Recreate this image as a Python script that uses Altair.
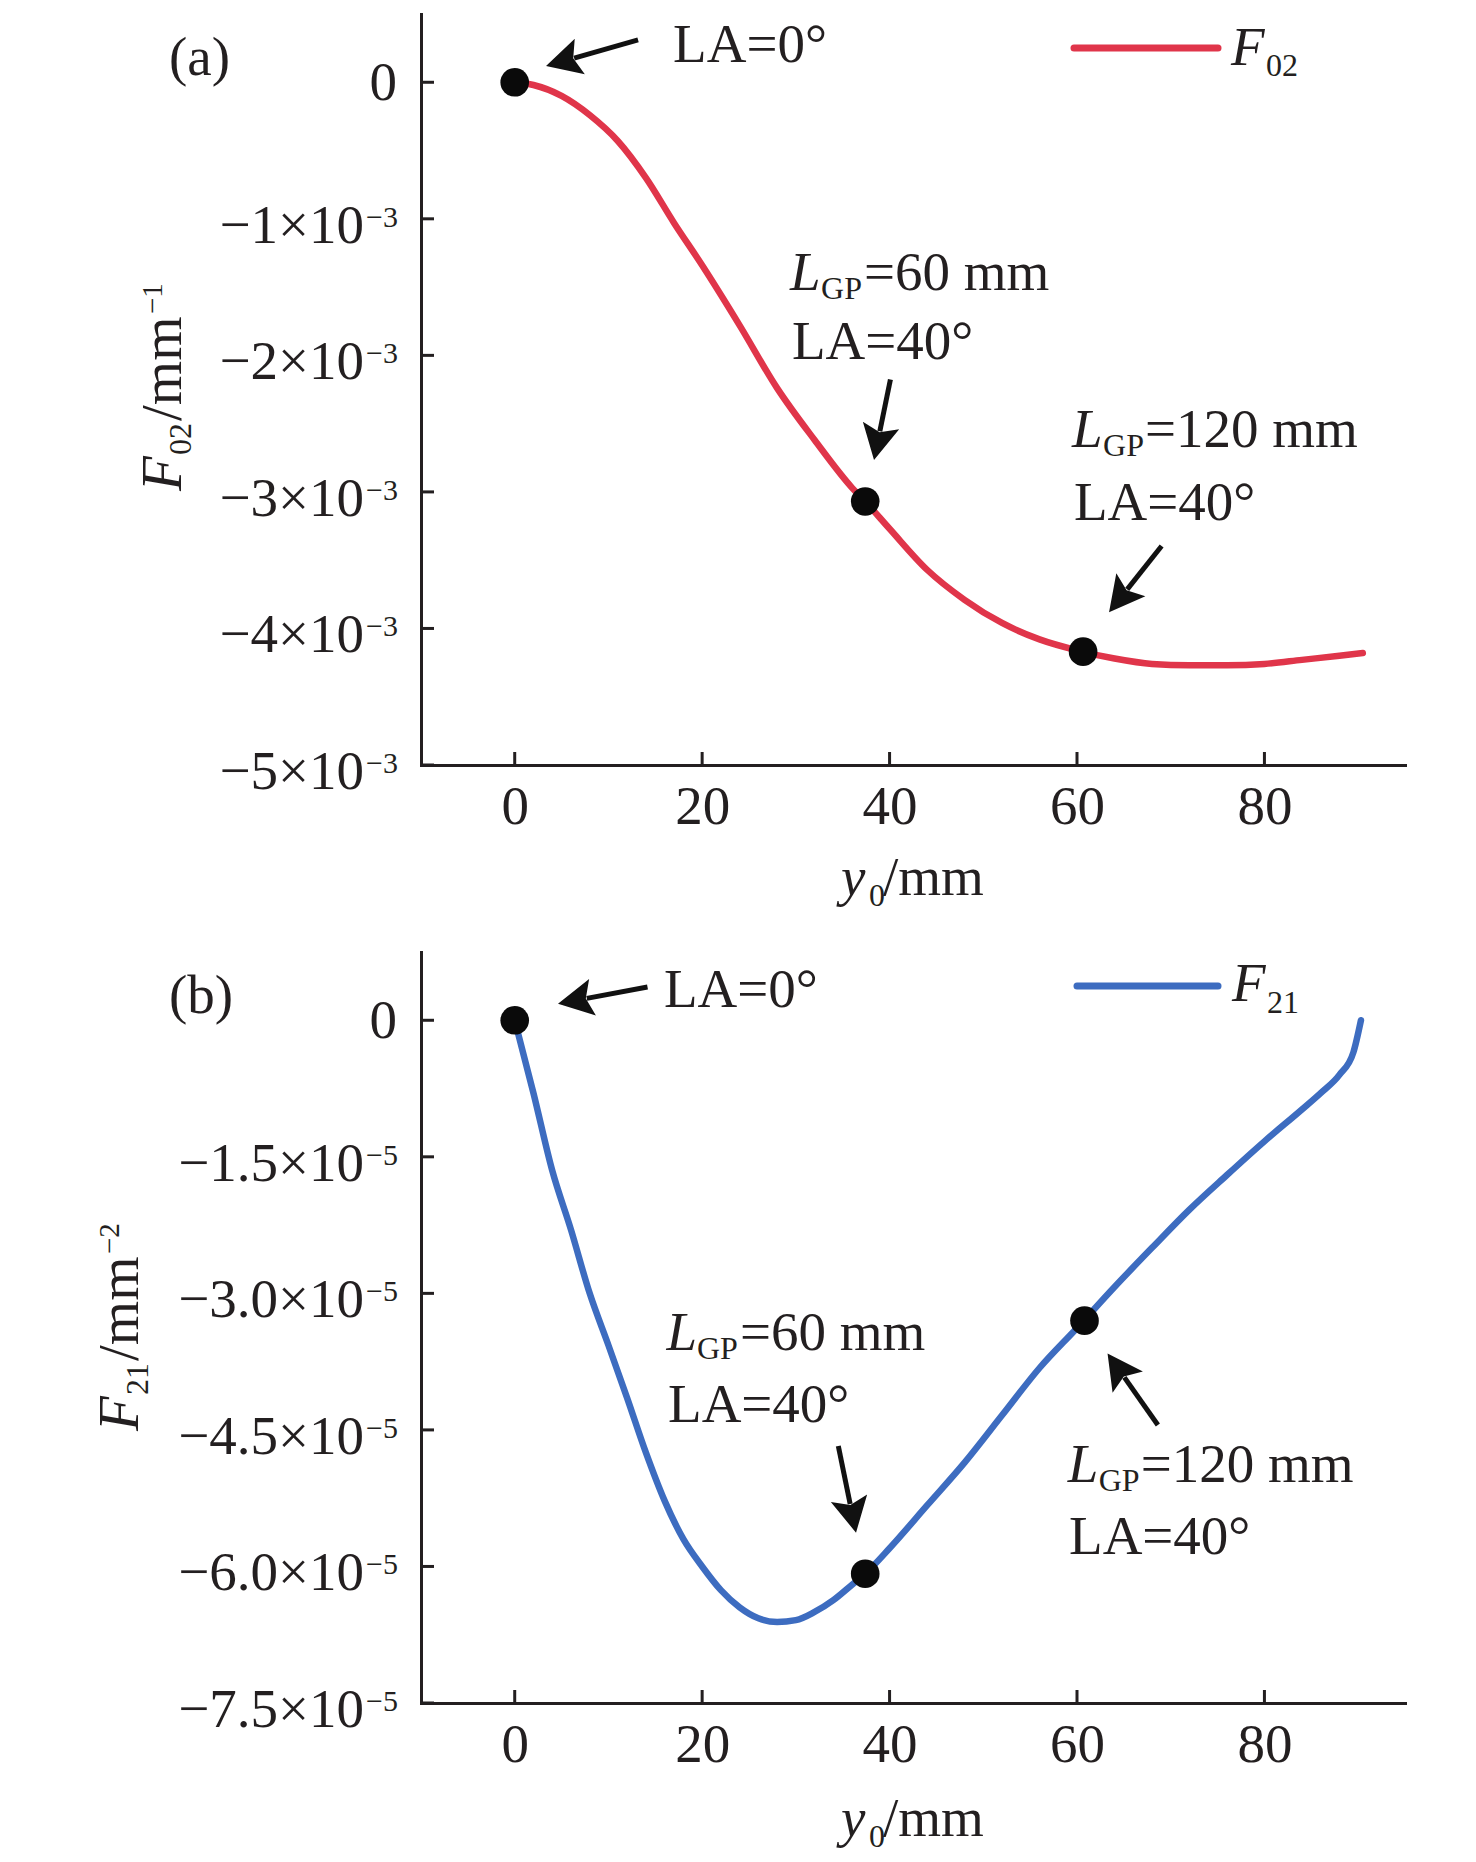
import math
import altair as alt
import pandas as pd

# ---------------- data ----------------
X_DOMAIN = [-10, 95]
X_TICKS = [0, 20, 40, 60, 80]

# panel (a): F02 (1/mm)
xa = [0, 2, 5, 8, 11, 14, 17, 20, 24, 28, 32, 36, 37.4, 40, 44, 48, 52, 56, 60, 64, 68, 72, 76, 80, 84, 88, 90.5]
f02 = [0, -0.02e-3, -0.10e-3, -0.24e-3, -0.43e-3, -0.70e-3, -1.03e-3, -1.34e-3, -1.78e-3, -2.24e-3,
       -2.62e-3, -2.97e-3, -3.07e-3, -3.27e-3, -3.57e-3, -3.79e-3, -3.96e-3, -4.08e-3, -4.16e-3,
       -4.22e-3, -4.26e-3, -4.27e-3, -4.27e-3, -4.26e-3, -4.23e-3, -4.20e-3, -4.18e-3]
ya_domain = [-5e-3, 0.5e-3]
ya_ticks = [0, -1e-3, -2e-3, -3e-3, -4e-3, -5e-3]
ya_main = ["0", "−1×10", "−2×10", "−3×10", "−4×10", "−5×10"]
ya_sup = ["", "−3", "−3", "−3", "−3", "−3"]
pa_x = [0, 37.4, 60.65]
pa_y = [0, -3.07e-3, -4.17e-3]

# panel (b): F21 (1/mm^2)
xb = [0, 2, 4, 6, 8, 10, 12, 14, 16, 18, 20, 22, 24, 26, 28, 30, 32, 34, 36, 37.4, 40, 44, 48, 52,
      56, 60, 64, 68, 72, 76, 80, 84, 86, 88, 89.5, 90.3]
f21 = [0, -0.80e-5, -1.65e-5, -2.30e-5, -3.00e-5, -3.57e-5, -4.15e-5, -4.75e-5, -5.28e-5, -5.70e-5,
       -6.00e-5, -6.26e-5, -6.45e-5, -6.57e-5, -6.61e-5, -6.59e-5, -6.50e-5, -6.37e-5, -6.20e-5,
       -6.08e-5, -5.80e-5, -5.33e-5, -4.86e-5, -4.34e-5, -3.82e-5, -3.38e-5, -2.93e-5, -2.50e-5,
       -2.08e-5, -1.70e-5, -1.33e-5, -0.98e-5, -0.80e-5, -0.60e-5, -0.35e-5, 0]
yb_domain = [-7.5e-5, 0.75e-5]
yb_ticks = [0, -1.5e-5, -3.0e-5, -4.5e-5, -6.0e-5, -7.5e-5]
yb_main = ["0", "−1.5×10", "−3.0×10", "−4.5×10", "−6.0×10", "−7.5×10"]
yb_sup = ["", "−5", "−5", "−5", "−5", "−5"]
pb_x = [0, 37.4, 60.8]
pb_y = [0, -6.08e-5, -3.30e-5]

# ---------------- style / layout ----------------
W, H = 984, 751
FONT = "Liberation Serif"
INK = "#231f20"
BIG = 55
SMALL = 32
TICKF = 55
RED = "#e0354a"
BLUE = "#3d6cc0"
HEAD = "M0,0L-0.95,1.8L0,1.45L0.95,1.8Z"
HEAD_R = 19.5

AX_X = alt.Axis(values=X_TICKS, ticks=False, tickSize=0, grid=False, labelFont=FONT,
                labelFontSize=TICKF, labelColor=INK, labelPadding=58, labelBaseline="alphabetic",
                domainColor=INK, domainWidth=3, domainCap="square")
AX_Y = alt.Axis(labels=False, ticks=False, tickSize=0, grid=False, domainColor=INK, domainWidth=3,
                domainCap="square")


def one():
    return pd.DataFrame({"k": [0]})


def ptext(s, px, py, size=BIG, style="normal", angle=0, align="left"):
    kw = dict(font=FONT, fontSize=size, fontStyle=style, color=INK, align=align, baseline="alphabetic")
    if angle:
        kw["angle"] = angle
    return alt.Chart(one()).mark_text(**kw).encode(
        x=alt.value(px), y=alt.value(py), text=alt.value(s))


def panel(cx, cy, color, ydom, ticks, mains, sups, px_, py_, texts, italics, subs, arrows,
          lab, title_parts, legend_parts, xtitle_y):
    xsc = alt.Scale(domain=X_DOMAIN, nice=False, zero=False)
    ysc = alt.Scale(domain=ydom, nice=False, zero=False)
    sx = W / (X_DOMAIN[1] - X_DOMAIN[0])
    sy = H / (ydom[1] - ydom[0])

    def X(f):
        return alt.X(f, scale=xsc, axis=AX_X, title=None)

    def Y(f):
        return alt.Y(f, scale=ysc, axis=AX_Y, title=None)

    layers = []
    curve = pd.DataFrame({"x": cx, "y": cy})
    layers.append(
        alt.Chart(curve).mark_line(color=color, strokeWidth=6.5, strokeCap="round", strokeJoin="round",
                                   interpolate="monotone").encode(x=X("x:Q"), y=Y("y:Q"))
    )
    # inward ticks
    yt = pd.DataFrame({"v": ticks, "m": mains, "s": sups})
    layers.append(alt.Chart(yt).mark_rule(color=INK, strokeWidth=3).encode(
        y=Y("v:Q"), x=alt.value(0), x2=alt.value(13)))
    xt = pd.DataFrame({"v": X_TICKS})
    layers.append(alt.Chart(xt).mark_rule(color=INK, strokeWidth=3).encode(
        x=X("v:Q"), y=alt.value(H), y2=alt.value(H - 13)))
    # y tick labels
    nz = yt[yt["s"] != ""]
    z = yt[yt["s"] == ""]
    layers.append(alt.Chart(nz).mark_text(font=FONT, fontSize=TICKF, color=INK, align="right",
                                          baseline="alphabetic", dy=24).encode(
        y=Y("v:Q"), x=alt.value(-57), text="m:N"))
    layers.append(alt.Chart(nz).mark_text(font=FONT, fontSize=30, color=INK, align="left",
                                          baseline="alphabetic", dy=8).encode(
        y=Y("v:Q"), x=alt.value(-55), text="s:N"))
    layers.append(alt.Chart(z).mark_text(font=FONT, fontSize=TICKF, color=INK, align="right",
                                         baseline="alphabetic", dy=18).encode(
        y=Y("v:Q"), x=alt.value(-24), text="m:N"))
    # y title (rotated pieces)
    for s, px, py, size, style in title_parts:
        layers.append(ptext(s, px, py, size, style, angle=270))
    # x title
    layers.append(ptext("y", 420, xtitle_y, BIG, "italic"))
    layers.append(ptext("0", 448, xtitle_y + 11, SMALL))
    layers.append(ptext("/mm", 462, xtitle_y, BIG))
    # panel label
    layers.append(ptext(lab, -252, 61, BIG))
    # legend
    lx1, lx2, ly, fx, fy, sub, subx, suby = legend_parts
    layers.append(alt.Chart(one()).mark_rule(color=color, strokeWidth=7, strokeCap="round").encode(
        x=alt.value(lx1), x2=alt.value(lx2), y=alt.value(ly)))
    layers.append(ptext("F", fx, fy, BIG, "italic"))
    layers.append(ptext(sub, subx, suby, SMALL))
    # annotation texts
    tdf = pd.DataFrame(texts, columns=["t", "x", "y"])
    layers.append(alt.Chart(tdf).mark_text(font=FONT, fontSize=BIG, color=INK, align="left",
                                           baseline="alphabetic").encode(x=X("x:Q"), y=Y("y:Q"), text="t:N"))
    idf = pd.DataFrame(italics, columns=["t", "x", "y"])
    layers.append(alt.Chart(idf).mark_text(font=FONT, fontSize=BIG, fontStyle="italic", color=INK,
                                           align="left", baseline="alphabetic").encode(
        x=X("x:Q"), y=Y("y:Q"), text="t:N"))
    sdf = pd.DataFrame(subs, columns=["t", "x", "y"])
    layers.append(alt.Chart(sdf).mark_text(font=FONT, fontSize=SMALL, color=INK, align="left",
                                           baseline="alphabetic").encode(
        x=X("x:Q"), y=Y("y:Q"), text="t:N"))
    # arrows
    rows = []
    for (x1, y1, x2, y2) in arrows:
        dxp = (x2 - x1) * sx
        dyp = -(y2 - y1) * sy
        L = math.hypot(dxp, dyp)
        back = 1.5 * HEAD_R
        ex = x2 - dxp / L * back / sx
        ey = y2 + dyp / L * back / sy
        ang = math.degrees(math.atan2(dxp, -dyp)) % 360
        rows.append({"x1": x1, "y1": y1, "ex": ex, "ey": ey, "tx": x2, "ty": y2, "ang": ang})
    adf = pd.DataFrame(rows)
    layers.append(alt.Chart(adf).mark_rule(color="#111111", strokeWidth=5).encode(
        x=X("x1:Q"), y=Y("y1:Q"), x2="ex:Q", y2="ey:Q"))
    layers.append(alt.Chart(adf).mark_point(shape=HEAD, filled=True, color="#111111", opacity=1,
                                            size=(2 * HEAD_R) ** 2, strokeWidth=0).encode(
        x=X("tx:Q"), y=Y("ty:Q"), angle=alt.Angle("ang:Q", scale=None)))
    # key points
    pdf = pd.DataFrame({"x": px_, "y": py_})
    layers.append(alt.Chart(pdf).mark_circle(color="#0a0a0a", opacity=1, size=820).encode(
        x=X("x:Q"), y=Y("y:Q")))
    return alt.layer(*layers).properties(width=W, height=H)


title_a = [("F", -240, 477, 57, "italic"), ("02", -230, 441, SMALL, "normal"),
           ("/mm", -240, 407, 57, "normal"), ("−1", -259, 300, 29, "normal")]
title_b = [("F", -283, 479, 57, "italic"), ("21", -273, 443, SMALL, "normal"),
           ("/mm", -283, 409, 57, "normal"), ("−2", -302, 302, 29, "normal")]

texts_a = [("LA=0°", 16.9, 0.150e-3), ("=60 mm", 37.27, -1.521e-3), ("LA=40°", 29.59, -2.027e-3),
           ("=120 mm", 67.26, -2.671e-3), ("LA=40°", 59.68, -3.206e-3)]
ital_a = [("L", 29.38, -1.521e-3), ("L", 59.47, -2.671e-3)]
subs_a = [("GP", 32.69, -1.587e-3), ("GP", 62.78, -2.737e-3)]
arrows_a = [(13.16, 0.31e-3, 3.34, 0.119e-3), (40.09, -2.176e-3, 38.34, -2.766e-3),
            (69.03, -3.396e-3, 63.42, -3.882e-3)]

texts_b = [("LA=0°", 15.93, 0.149e-5), ("=60 mm", 24.04, -3.627e-5), ("LA=40°", 16.36, -4.413e-5),
           ("=120 mm", 66.79, -5.071e-5), ("LA=40°", 59.15, -5.859e-5)]
ital_b = [("L", 16.19, -3.627e-5), ("L", 59.0, -5.071e-5)]
subs_b = [("GP", 19.45, -3.721e-5), ("GP", 62.31, -5.171e-5)]
arrows_b = [(14.17, 0.365e-5, 4.62, 0.182e-5), (34.53, -4.677e-5, 36.42, -5.629e-5),
            (68.63, -4.446e-5, 63.26, -3.66e-5)]

pa = panel(xa, f02, RED, ya_domain, ya_ticks, ya_main, ya_sup, pa_x, pa_y, texts_a, ital_a, subs_a,
           arrows_a, "(a)", title_a, (653, 797, 34, 810, 51, "02", 845, 62), 881)
pb = panel(xb, f21, BLUE, yb_domain, yb_ticks, yb_main, yb_sup, pb_x, pb_y, texts_b, ital_b, subs_b,
           arrows_b, "(b)", title_b, (656, 797, 34, 811, 49, "21", 846, 61), 884)

chart = alt.vconcat(pa, pb, spacing=40).properties(
    padding={"left": 84, "top": 6, "right": 5, "bottom": 0}
).configure_view(stroke=None)

chart.save("out.html", embed_options={"renderer": "svg", "actions": False})
